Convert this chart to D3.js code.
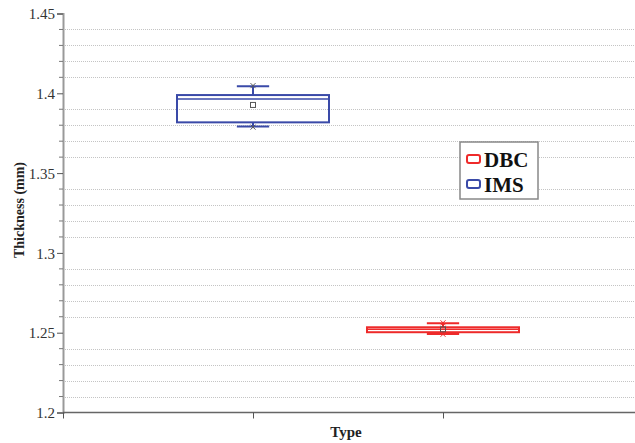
<!DOCTYPE html>
<html>
<head>
<meta charset="utf-8">
<script src="https://cdn.jsdelivr.net/npm/d3@7"></script>
<style>
  body { margin: 0; background: #fff; }
  svg text { font-family: "Liberation Serif", "Times New Roman", serif; }
</style>
</head>
<body>
<div id="chart"></div>
<script>
// Dados (box plot de espessura)
const categories = ['IMS', 'DBC'];
const positions = [1, 2];
const colors = ['#3a4aa8', '#ee2a2a'];
const whiskerLow = [1.3792, 1.2492];
const q1 = [1.3818, 1.2503];
const median = [1.3964, 1.2521];
const q3 = [1.3989, 1.2534];
const whiskerHigh = [1.4044, 1.2559];
const means = [1.3927, 1.2521];
const minVals = [1.3788, 1.2490];
const maxVals = [1.4048, 1.2562];

const legendOrder = ['DBC', 'IMS'];
const yMajor = [1.2, 1.25, 1.3, 1.35, 1.4, 1.45];

const width = 635, height = 443;
const margin = { top: 13.5, right: 0, bottom: 30.5, left: 63 };

const svg = d3.select('#chart').append('svg')
    .attr('width', width)
    .attr('height', height);

const x = d3.scaleLinear().domain([0, 3]).range([margin.left, 633]);
const y = d3.scaleLinear().domain([1.2, 1.45]).range([height - margin.bottom, margin.top]);

// Linhas de grade pontilhadas (menores)
const minor = d3.range(1.2, 1.4501, 0.01).filter(v => !yMajor.some(m => Math.abs(m - v) < 1e-6));
svg.append('g')
    .selectAll('line')
    .data(minor)
    .enter()
    .append('line')
    .attr('x1', margin.left + 2)
    .attr('x2', width)
    .attr('y1', d => Math.round(y(d)) + 0.5)
    .attr('y2', d => Math.round(y(d)) + 0.5)
    .attr('stroke', '#c4c4c4')
    .attr('stroke-width', 1)
    .attr('stroke-dasharray', '1,1');

// Eixo Y
const yAxis = svg.append('g')
    .attr('transform', `translate(${margin.left},0)`)
    .call(d3.axisLeft(y).tickValues(yMajor).tickSize(6).tickFormat(d3.format('')));
yAxis.select('.domain').attr('stroke', '#999').attr('stroke-width', 2);
yAxis.selectAll('.tick line').attr('stroke', '#555');
yAxis.selectAll('.tick text')
    .attr('font-size', '15px')
    .attr('fill', '#333')
    .attr('x', -8)
    .attr('dy', '0.35em');

svg.append('g')
    .attr('transform', `translate(${margin.left},0)`)
    .selectAll('line')
    .data(minor)
    .enter()
    .append('line')
    .attr('x1', -4).attr('x2', 0)
    .attr('y1', d => y(d)).attr('y2', d => y(d))
    .attr('stroke', '#777')
    .attr('stroke-width', 1);

// Eixo X
const xAxis = svg.append('g')
    .attr('transform', `translate(0,${height - margin.bottom})`)
    .call(d3.axisBottom(x).tickValues([0, 1, 2]).tickSize(6).tickFormat(''));
xAxis.select('.domain').attr('stroke', '#666').attr('stroke-width', 1.5).attr('d', `M${margin.left},0H${width}`);
xAxis.selectAll('.tick line').attr('stroke', '#555');

// Títulos dos eixos
svg.append('text')
    .attr('x', x(1.5) - 2)
    .attr('y', 437)
    .attr('text-anchor', 'middle')
    .attr('font-size', '15px')
    .attr('font-weight', 'bold')
    .attr('fill', '#222')
    .text('Type');

svg.append('text')
    .attr('transform', 'translate(24,210) rotate(-90)')
    .attr('text-anchor', 'middle')
    .attr('font-size', '14px')
    .attr('font-weight', 'bold')
    .attr('fill', '#222')
    .text('Thickness (mm)');

// Caixas
const boxW = 0.8, capW = 0.17;
categories.forEach((c, i) => {
    const g = svg.append('g');
    const px = positions[i];
    const col = colors[i];
    // bigodes
    g.append('line')
        .attr('x1', x(px)).attr('x2', x(px))
        .attr('y1', y(whiskerHigh[i])).attr('y2', y(q3[i]))
        .attr('stroke', col).attr('stroke-width', 2);
    g.append('line')
        .attr('x1', x(px)).attr('x2', x(px))
        .attr('y1', y(q1[i])).attr('y2', y(whiskerLow[i]))
        .attr('stroke', col).attr('stroke-width', 2);
    [whiskerHigh[i], whiskerLow[i]].forEach(v => {
        g.append('line')
            .attr('x1', x(px - capW / 2)).attr('x2', x(px + capW / 2))
            .attr('y1', y(v)).attr('y2', y(v))
            .attr('stroke', col).attr('stroke-width', 2);
    });
    // caixa
    g.append('rect')
        .attr('x', x(px - boxW / 2))
        .attr('y', y(q3[i]))
        .attr('width', x(px + boxW / 2) - x(px - boxW / 2))
        .attr('height', y(q1[i]) - y(q3[i]))
        .attr('fill', 'none')
        .attr('stroke', col)
        .attr('stroke-width', 2);
    // mediana
    g.append('line')
        .attr('x1', x(px - boxW / 2)).attr('x2', x(px + boxW / 2))
        .attr('y1', y(median[i])).attr('y2', y(median[i]))
        .attr('stroke', col).attr('stroke-width', 1.5);
    // média
    g.append('rect')
        .attr('x', x(px) - 2.5).attr('y', y(means[i]) - 2.5)
        .attr('width', 5).attr('height', 5)
        .attr('fill', 'none').attr('stroke', '#555').attr('stroke-width', 1);
    // min / max (x)
    [minVals[i], maxVals[i]].forEach(v => {
        g.append('path')
            .attr('d', `M${x(px) - 2.5},${y(v) - 2.5}L${x(px) + 2.5},${y(v) + 2.5}M${x(px) - 2.5},${y(v) + 2.5}L${x(px) + 2.5},${y(v) - 2.5}`)
            .attr('stroke', i === 0 ? '#555' : col).attr('stroke-width', 1);
    });
});

// Legenda
const lg = svg.append('g').attr('transform', 'translate(460,142)');
lg.append('rect')
    .attr('width', 78).attr('height', 57)
    .attr('fill', '#fff').attr('stroke', '#888').attr('stroke-width', 1.5);
legendOrder.forEach((name, k) => {
    const i = categories.indexOf(name);
    const row = lg.append('g').attr('transform', `translate(0,${17 + k * 25})`);
    row.append('rect')
        .attr('x', 7).attr('y', -4).attr('width', 13).attr('height', 8).attr('rx', 2)
        .attr('fill', 'none').attr('stroke', colors[i]).attr('stroke-width', 2);
    row.append('text')
        .attr('x', 24).attr('y', 7.5)
        .attr('font-size', '21px')
        .attr('font-weight', 'bold')
        .attr('fill', '#111')
        .text(name);
});
</script>
</body>
</html>
